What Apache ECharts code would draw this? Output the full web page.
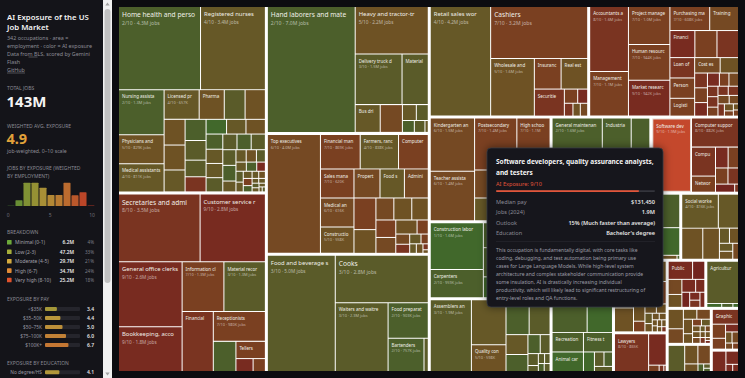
<!DOCTYPE html>
<html><head><meta charset="utf-8">
<script src="https://cdn.jsdelivr.net/npm/echarts@6/dist/echarts.min.js"></script>
<style>html,body{margin:0;padding:0;background:#0c0c10;overflow:hidden}#c{width:745px;height:378px}</style>
</head><body><div id="c"></div>
<script>
// ---------------- DATA ----------------
// occupation rows: [name, jobs (thousands), AI exposure 0-10]
const healthcare = [
["Home health and personal care aides",4300,2],["Registered nurses",3400,4],["Nursing assistants and orderlies",1300,2],
["Physicians and surgeons",829,5],["Medical assistants",811,4],["Licensed practical and licensed vocational nurses",657,4],
["Pharmacy technicians",470,5],["Dental assistants",390,3],["Nurse anesthetists, nurse midwives, and nurse practitioners",380,5],
["Clinical laboratory technologists and technicians",340,5],["Pharmacists",330,5],["Radiologic and MRI technologists",290,4],
["EMTs and paramedics",280,2],["Physical therapists",260,3],["Dental hygienists",220,3],["Medical records specialists",200,8],
["Massage therapists",190,1],["Physician assistants",180,5],["Speech-language pathologists",180,4],
["Physical therapist assistants and aides",160,2],["Occupational therapists",150,3],["Dentists",150,4],
["Diagnostic medical sonographers",150,4],["Respiratory therapists",140,3],["Phlebotomists",140,2],
["Psychiatric technicians and aides",140,3],["Surgical assistants and technologists",130,2],
["Veterinary technologists and technicians",130,3],["Veterinarians",90,4],["Dietitians and nutritionists",80,5],
["Opticians",80,4],["Medical equipment preparers",70,3],["Occupational therapy assistants and aides",60,2],
["Cardiovascular technologists",60,4],["Chiropractors",50,3],["Medical transcriptionists",50,9],["Optometrists",45,4],
["Health information technologists",40,7],["Pharmacy aides",40,4],["Athletic trainers",35,2],
["Dental laboratory technicians",30,5],["Ophthalmic laboratory technicians",30,4],["Recreational therapists",20,3],
["Radiation therapists",20,4],["Exercise physiologists",20,4],["Nuclear medicine technologists",18,4],
["Audiologists",15,4],["Orthotists and prosthetists",10,3],["Podiatrists",10,4],["Genetic counselors",4,6]
];
const officeAdmin = [
["Secretaries and administrative assistants",3500,8],["Customer service representatives",2800,9],
["General office clerks",2600,9],["Bookkeeping, accounting, and auditing clerks",1800,9],["Information clerks",1310,7],
["Material recording clerks",1300,3],["Financial clerks",1180,8],["Receptionists",980,7],
["Postal service workers",430,2],["Tellers",320,7],["Data entry keyers",140,9],["Switchboard operators",100,7]
];
const transportation = [
["Hand laborers and material movers",7000,2],["Heavy and tractor-trailer truck drivers",2200,5],
["Delivery truck drivers and driver/sales workers",1500,3],["Material moving machine operators",840,3],
["Bus drivers",440,4],["Taxi drivers, shuttle drivers, and chauffeurs",390,6],["Airline and commercial pilots",140,4],
["Flight attendants",120,3],["Railroad workers",90,2],["Water transportation workers",80,3],["Air traffic controllers",25,4]
];
const management = [
["Top executives",4000,6],["Financial managers",869,7],["Farmers, ranchers, and other agricultural managers",838,4],
["Computer and information systems managers",650,7],["Sales managers",620,7],["Medical and health services managers",616,6],
["Construction managers",558,5],["Property, real estate, and community association managers",480,6],
["Food service managers",450,4],["Advertising, promotions, and marketing managers",440,7],
["Administrative services and facilities managers",440,6],["Elementary, middle, and high school principals",330,5],
["Industrial production managers",250,5],["Transportation, storage, and distribution managers",250,6],
["Architectural and engineering managers",230,5],["Human resources managers",220,7],["Postsecondary education administrators",200,6],
["Social and community service managers",190,5],["Public relations managers",100,7],["Natural sciences managers",90,6],
["Purchasing managers",80,8],["Preschool and childcare center directors",70,4],["Training and development managers",45,7],
["Lodging managers",40,5],["Entertainment and recreation managers",40,4],["Compensation and benefits managers",20,8],
["Emergency management directors",12,5]
];
const foodService = [
["Food and beverage serving and related workers",5000,3],["Cooks",2800,3],["Waiters and waitresses",2300,3],
["Food preparation workers",903,2],["Bartenders",757,2],["Chefs and head cooks",90,3]
];
const sales = [
["Retail sales workers",4200,4],["Cashiers",3200,7],["Wholesale and manufacturing sales representatives",1600,5],
["Insurance sales agents",520,7],["Real estate brokers and sales agents",517,5],
["Securities, commodities, and financial services sales agents",515,8],
["Advertising sales agents",120,7],["Telemarketers",90,9],["Travel agents",70,8],["Sales engineers",60,6],
["Demonstrators and product promoters",60,5]
];
const business = [
["Accountants and auditors",1600,8],["Management analysts",1100,7],["Project management specialists",1000,7],
["Human resources specialists",944,7],["Market research analysts",942,9],["Purchasing managers, buyers, and purchasing agents",608,7],
["Training and development specialists",440,6],["Financial analysts",429,9],["Compliance officers",380,7],
["Claims adjusters, appraisers, examiners, and investigators",370,8],["Personal financial advisors",320,7],["Loan officers",320,8],
["Logisticians",280,7],["Cost estimators",250,6],["Meeting, convention, and event planners",180,5],["Insurance underwriters",110,9],
["Fundraisers",120,7],["Compensation, benefits, and job analysis specialists",120,8],["Appraisers and assessors of real estate",80,6],
["Tax preparers",100,9],["Fraud examiners",80,7],["Credit analysts",70,8],["Financial examiners",70,8],
["Business continuity planners",60,6],["Financial risk specialists",60,8],["Tax examiners and collectors",60,8],
["Labor relations specialists",60,7],["Budget analysts",50,8],["Sustainability specialists",50,6],
["Emergency management specialists",40,5],["Credit counselors",30,7],["Insurance appraisers",20,7],
["Agents and business managers of artists",20,5]
];
const education = [
["Kindergarten and elementary school teachers",1500,6],["Postsecondary teachers",1400,7],["Teacher assistants",1400,6],
["High school teachers",1100,7],["Middle school teachers",620,6],["Special education teachers",500,5],["Preschool teachers",500,4],
["Career and technical education teachers",220,5],["Instructional coordinators",200,7],["Library technicians and assistants",160,7],
["Librarians and library media specialists",140,7],["Adult basic and secondary education and ESL teachers",50,8],
["Archivists, curators, and museum workers",50,6]
];
const construction = [
["Construction laborers and helpers",1600,1],["Carpenters",959,2],["Electricians",650,2],
["Plumbers, pipefitters, and steamfitters",420,2],["Construction equipment operators",420,2],["Painters, construction and maintenance",300,1],
["Masonry workers",200,1],["Roofers",160,1],["Highway maintenance workers",150,1],["Drywall installers",130,1],
["Sheet metal workers",130,2],["Construction and building inspectors",130,4],["Structural iron and steel workers",100,1],
["Flooring installers",100,1],["Oil and gas workers",70,2],["Insulation workers",60,1],["Glaziers",60,1],
["Hazardous materials removal workers",50,2],["Elevator installers and repairers",25,2],["Solar photovoltaic installers",25,2],
["Earth drillers",20,2],["Boilermakers",15,2]
];
const maintenance = [
["General maintenance and repair workers",1600,2],["Automotive service technicians and mechanics",800,2],
["Industrial machinery mechanics",620,2],["Heating, air conditioning, and refrigeration mechanics",400,2],
["Diesel service technicians and mechanics",250,2],["Line installers and repairers",200,1],
["Heavy vehicle and mobile equipment service technicians",150,2],["Telecommunications technicians",150,3],
["Automotive body and glass repairers",150,2],["Aircraft and avionics equipment mechanics",120,2],
["Electrical and electronics installers and repairers",80,2],["Small engine mechanics",60,2],["Medical equipment repairers",40,3],
["Home appliance repairers",20,2],["Locksmiths and safe repairers",20,2],["Wind turbine technicians",12,2]
];
const computer = [
["Software developers, quality assurance analysts, and testers",1900,9],["Computer support specialists",882,8],
["Computer systems analysts",450,8],["Network and computer systems administrators",250,7],["Web developers and digital designers",170,9],
["Information security analysts",140,7],["Computer network architects",130,7],["Database administrators and architects",110,8],
["Computer programmers",100,10],["Computer and information research scientists",20,8]
];
const production = [
["Assemblers and fabricators",1900,3],["Metal and plastic machine workers",1000,4],["Quality control inspectors",598,5],
["Welders, cutters, solderers, and brazers",520,2],["Machinists and tool and die makers",470,3],["Printing workers",280,4],
["Woodworkers",240,2],["Painting and coating workers",150,2],["Water and wastewater treatment plant operators",120,3],
["Chemical plant operators",80,3],["Power plant operators",40,3],["Jewelers and precious stone workers",40,3],
["Stationary engineers and boiler operators",35,3],["Semiconductor processing technicians",30,3],["Upholsterers",30,2]
];
const buildingGrounds = [
["Janitors and building cleaners",2400,1],["Grounds maintenance workers",1300,1],["Pest control workers",100,2]
];
const personalCare = [
["Childcare workers",900,2],["Barbers, hairstylists, and cosmetologists",650,1],["Animal care and service workers",400,1],
["Recreation workers",400,2],["Fitness trainers and instructors",370,2],["Manicurists and pedicurists",140,1],
["Gambling services workers",90,3],["Skincare specialists",80,2],["Funeral service workers",60,3]
];
const architecture = [
["Engineering technicians",350,4],["Industrial engineers",340,5],["Civil engineers",330,5],["Electrical and electronics engineers",300,5],
["Mechanical engineers",290,5],["Drafters",190,7],["Architects",130,5],["Computer hardware engineers",80,7],
["Aerospace engineers",70,5],["Surveying and mapping technicians",60,5],["Surveyors",50,4],["Environmental engineers",40,5],
["Health and safety engineers",30,5],["Materials engineers",30,5],["Chemical engineers",20,5],["Biomedical engineers",20,5],
["Petroleum engineers",20,5],["Landscape architects",20,5],["Cartographers and photogrammetrists",15,8],["Nuclear engineers",15,5]
];
const protective = [
["Security guards and gambling surveillance officers",1200,3],["Police and detectives",800,3],
["Correctional officers and bailiffs",400,2],["Firefighters",330,1],["Private detectives and investigators",40,5],
["Fish and game wardens",7,2]
];
const community = [
["Social workers",816,4],["Substance abuse, behavioral disorder, and mental health counselors",450,4],
["Social and human service assistants",430,5],["School and career counselors and advisors",340,5],
["Rehabilitation counselors",100,4],["Probation officers and correctional treatment specialists",90,5],
["Community health workers",70,5],["Marriage and family therapists",70,4],["Health education specialists",60,6]
];
const lifeScience = [
["Psychologists",200,5],["Medical scientists",150,6],["Chemists and materials scientists",90,5],
["Environmental scientists and specialists",90,6],["Biological technicians",90,5],["Chemical technicians",60,5],
["Conservation scientists and foresters",40,4],["Urban and regional planners",40,7],["Geoscientists",30,6],
["Agricultural and food science technicians",30,5],["Environmental science and protection technicians",30,5],
["Economists",20,8],["Forensic science technicians",20,5],["Microbiologists",20,5],["Physicists and astronomers",20,6],
["Zoologists and wildlife biologists",20,4],["Survey researchers",10,9],["Atmospheric scientists",10,6],
["Sociologists",5,8],["Historians",3,8]
];
const legal = [
["Lawyers",865,8],["Paralegals and legal assistants",370,9],["Judges and hearing officers",45,7],
["Court reporters and simultaneous captioners",20,8],["Arbitrators, mediators, and conciliators",10,8]
];
const media = [
["Public relations specialists",300,9],["Writers and authors",150,10],["Photographers",140,6],["Editors",120,9],
["Broadcast, sound, and video technicians",120,5],["Interpreters and translators",80,10],["Film and video editors and camera operators",80,9],
["Technical writers",55,9],["News analysts, reporters, and journalists",50,9],["Announcers and DJs",50,8]
];
const farming = [
["Agricultural workers",913,3],["Logging workers",40,1],["Fishing and hunting workers",30,2],["Forest and conservation workers",15,1]
];
const arts = [
["Graphic designers",270,8],["Art directors",130,7],["Interior designers",100,7],["Special effects artists and animators",70,9],
["Craft and fine artists",50,6],["Floral designers",50,5],["Industrial designers",30,6],["Fashion designers",25,7]
];
const entertainment = [
["Coaches and scouts",300,3],["Musicians and singers",170,5],["Producers and directors",160,6],["Actors",70,5],
["Athletes and sports competitors",30,2],["Umpires, referees, and other sports officials",20,3],["Dancers and choreographers",15,2]
];
const mathOcc = [
["Data scientists",200,9],["Operations research analysts",120,9],["Statisticians",35,9],["Actuaries",30,9],["Mathematicians",3,8]
];
const groupNames = ["Healthcare","Office and administrative support","Transportation and material moving","Management",
"Food preparation and serving","Sales","Business and financial","Education, training, and library","Construction and extraction",
"Installation, maintenance, and repair","Computer and information technology","Production","Building and grounds cleaning",
"Personal care and service","Architecture and engineering","Protective service","Community and social service",
"Life, physical, and social science","Legal","Media and communication","Farming, fishing, and forestry","Arts and design",
"Entertainment and sports","Math"];
const groupRows = [healthcare,officeAdmin,transportation,management,foodService,sales,business,education,construction,
maintenance,computer,production,buildingGrounds,personalCare,architecture,protective,community,lifeScience,legal,media,
farming,arts,entertainment,mathOcc];

// sidebar data
const histScores = ["0","1","2","3","4","5","6","7","8","9","10"];
const histJobsM = [0.3,5.9,23.6,23.6,18.5,11.2,11.2,23.5,10.8,14.0,0.4];
const breakdownLabels = ["Minimal (0-1)","Low (2-3)","Moderate (4-5)","High (6-7)","Very high (8-10)"];
const breakdownJobs = ["6.2M","47.2M","29.7M","34.7M","25.2M"];
const breakdownPct = ["4%","33%","21%","24%","18%"];
const payBands = ["<$35K","$35–50K","$50–75K","$75–100K","$100K+"];
const payExposure = [3.4,4.4,5.0,6.0,6.7];
const eduLevels = ["No degree/HS"];
const eduExposure = [4.1];
// hovered occupation detail
const tipTitle = ["Software developers, quality assurance analysts,","and testers"];
const tipExposure = 9;
const tipLabels = ["Median pay","Jobs (2024)","Outlook","Education"];
const tipValues = ["$131,450","1.9M","15% (Much faster than average)","Bachelor's degree"];
const tipText = ["This occupation is fundamentally digital, with core tasks like",
"coding, debugging, and test automation being primary use",
"cases for Large Language Models. While high-level system",
"architecture and complex stakeholder communication provide",
"some insulation, AI is drastically increasing individual",
"productivity, which will likely lead to significant restructuring of",
"entry-level roles and QA functions."];
const hoveredName = "Software developers, quality assurance analysts, and testers";

// ---------------- STYLE HELPERS ----------------
const FONT = '"Noto Sans", "DejaVu Sans", sans-serif';
const cellPalette = ['#356b2d','#41682b','#4c5f2b','#5a5b29','#665827','#6e5224','#754923','#7a4021','#7a3421','#782b20','#72241e'];
const brightStops = [[0,[95,168,58]],[2.5,[166,174,58]],[4.5,[212,170,62]],[6.5,[224,138,54]],[9,[224,82,44]],[10,[200,60,40]]];
function bright(v){
  for(let i=0;i<brightStops.length-1;i++){
    const a=brightStops[i],b=brightStops[i+1];
    if(v<=b[0]){const t=Math.max(0,(v-a[0])/(b[0]-a[0]));
      const c=a[1].map((x,k)=>Math.round(x+(b[1][k]-x)*t));return 'rgb('+c.join(',')+')';}
  }
  return 'rgb(200,60,40)';
}
function fmtJobs(k){return k>=1000?(k/1000).toFixed(1)+'M':Math.round(k)+'K';}
const TX=487,TY=148,TW=176,TH=159; // hover card box
const TM={left:119,top:7,right:7,bottom:7};

function buildTree(sizes){
  return groupNames.map((g,gi)=>({
    name:g,
    children:groupRows[gi].map(r=>{
      const item={name:r[0],value:r[1],sub:r[2]+'/10 · '+fmtJobs(r[1])+' jobs',
        itemStyle:{color:cellPalette[r[2]]}};
      if(r[0]===hoveredName){item.itemStyle={color:'#c4482c',borderColor:'#e6d6cf',borderWidth:1};}
      if(sizes){
        const s=sizes[r[0]];
        if(!s||s.w<22||s.h<11){item.label={show:false};}
        else{
          const w=s.w,h=s.h;
          const fs=w>=74?6.6:(w>=58?5.9:4.5);
          const sfs=fs>6?5.1:(fs>5?4.7:3.9);
          const lx0=s.x, lx1=s.x+w, ly0=s.y, ly1=s.y+Math.min(h,24);
          const covered = lx1>TX && lx0<TX+TW && ly1>TY && ly0<TY+TH;
          if(covered){item.label={show:false};}
          else{
            item.showSub=(w>=31&&h>=22);
            item.label={show:true,rich:{
              n:{fontSize:fs,color:'#f0efe8',fontFamily:FONT,lineHeight:fs*1.4},
              s:{fontSize:sfs,color:'rgba(255,255,255,0.58)',fontFamily:FONT,lineHeight:sfs*1.5}}};
          }
        }
      }
      return item;
    })
  }));
}

// ---------------- SIDEBAR GRAPHICS ----------------
const gfx=[];
function txt(t,x,y,font,fill,align){gfx.push({type:'text',z:10,style:{text:t,x:x,y:y,font:font,fill:fill,textAlign:align||'left',textVerticalAlign:'middle'}});}
gfx.push({type:'rect',z:0,shape:{x:0,y:0,width:103,height:378},style:{fill:'#141419'}});
// scrollbar
gfx.push({type:'rect',z:2,shape:{x:103,y:0,width:9,height:378},style:{fill:'#f1f1f1'}});
gfx.push({type:'rect',z:3,shape:{x:104.5,y:9,width:6,height:274,r:3},style:{fill:'#c1c1c1'}});
gfx.push({type:'polygon',z:3,shape:{points:[[107.5,2.5],[105.3,5.5],[109.7,5.5]]},style:{fill:'#a3a3a3'}});
gfx.push({type:'polygon',z:3,shape:{points:[[107.5,375.5],[105.3,372.5],[109.7,372.5]]},style:{fill:'#a3a3a3'}});
txt('AI Exposure of the US',7,16.7,'600 7.8px '+FONT,'#f2f2f2');
txt('Job Market',7,26.7,'600 7.8px '+FONT,'#f2f2f2');
const subLines=['342 occupations · area =','employment · color = AI exposure','Data from BLS, scored by Gemini','Flash','GitHub'];
const subY=[38.3,46,54,61.7,70];
subLines.forEach((t,i)=>txt(t,7,subY[i],'5.4px '+FONT,'#8c8c96'));
gfx.push({type:'line',z:10,shape:{x1:28.5,y1:57,x2:37.5,y2:57},style:{stroke:'#8c8c96',lineWidth:0.5}});
gfx.push({type:'line',z:10,shape:{x1:7,y1:73,x2:25,y2:73},style:{stroke:'#8c8c96',lineWidth:0.5}});
txt('TOTAL JOBS',7,88.3,'5px '+FONT,'#8a8a94');
txt('143M',6.5,101,'bold 15px '+FONT,'#f4f4f4');
txt('WEIGHTED AVG. EXPOSURE',7,126.2,'5px '+FONT,'#8a8a94');
txt('4.9',6.5,138,'bold 14.5px '+FONT,'#e2a23a');
txt('job-weighted, 0–10 scale',7,150.5,'5.2px '+FONT,'#8c8c96');
txt('JOBS BY EXPOSURE (WEIGHTED',7,168.3,'5px '+FONT,'#8a8a94');
txt('BY EMPLOYMENT)',7,175.7,'5px '+FONT,'#8a8a94');
txt('BREAKDOWN',7,231.7,'5px '+FONT,'#8a8a94');
const bdY=[242.3,251.7,261.2,270.6,280];
const bdColors=[bright(0.5),bright(2.5),bright(4.5),bright(6.5),bright(9)];
breakdownLabels.forEach((t,i)=>{
  gfx.push({type:'rect',z:10,shape:{x:7,y:bdY[i]-2.3,width:4.6,height:4.6,r:0.6},style:{fill:bdColors[i]}});
  txt(t,15,bdY[i],'4.9px '+FONT,'#a2a2ac');
  txt(breakdownJobs[i],74,bdY[i],'600 4.9px '+FONT,'#ececec','right');
  txt(breakdownPct[i],94,bdY[i],'4.6px '+FONT,'#7c7c86','right');
});
txt('EXPOSURE BY PAY',7,299,'5px '+FONT,'#8a8a94');
txt('EXPOSURE BY EDUCATION',7,362.7,'5px '+FONT,'#8a8a94');

// ---------------- TOOLTIP PANEL ----------------
gfx.push({type:'rect',z:50,shape:{x:TX,y:TY,width:TW,height:TH,r:4},style:{fill:'#17181e',stroke:'#34353d',lineWidth:0.8,shadowBlur:8,shadowColor:'rgba(0,0,0,0.5)'}});
function ttxt(t,x,y,font,fill,align){gfx.push({type:'text',z:51,style:{text:t,x:x,y:y,font:font,fill:fill,textAlign:align||'left',textVerticalAlign:'middle'}});}
ttxt(tipTitle[0],496,161,'bold 6.5px '+FONT,'#f4f4f4');
ttxt(tipTitle[1],496,172,'bold 6.5px '+FONT,'#f4f4f4');
ttxt('AI Exposure: '+tipExposure+'/10',496,183.5,'5.6px '+FONT,'#e2553a');
gfx.push({type:'rect',z:51,shape:{x:496,y:190.3,width:159,height:1.6,r:0.8},style:{fill:'#34353c'}});
gfx.push({type:'rect',z:52,shape:{x:496,y:190.3,width:159*tipExposure/10,height:1.6,r:0.8},style:{fill:'#e2553a'}});
const rowY=[202,212,222.5,233];
tipLabels.forEach((l,i)=>{ttxt(l,496,rowY[i],'5.6px '+FONT,'#8a8a94');ttxt(tipValues[i],655,rowY[i],'600 5.6px '+FONT,'#e6e6e6','right');});
gfx.push({type:'rect',z:51,shape:{x:496,y:241.5,width:159,height:0.6},style:{fill:'#2c2d34'}});
tipText.forEach((l,i)=>ttxt(l,496,250+i*8,'5.05px '+FONT,'#9d9da7'));

// ---------------- OPTION ----------------
const chart=echarts.init(document.getElementById('c'),null,{renderer:'svg',width:745,height:378});
function makeOption(tree){
  return {
  backgroundColor:'#0c0c10',
  animation:false,
  textStyle:{fontFamily:FONT},
  grid:[
    {left:7,top:182.3,width:88,height:23.7,outerBoundsMode:'none'},
    {left:8.3,top:206,width:83.7,height:1,outerBoundsMode:'none'},
    {left:45,top:304.5,width:35,height:45,outerBoundsMode:'none'},
    {left:45,top:367.8,width:35,height:9,outerBoundsMode:'none'}
  ],
  xAxis:[
    {gridIndex:0,type:'category',data:histScores,axisLine:{show:false},axisTick:{show:false},axisLabel:{show:false}},
    {gridIndex:1,type:'value',min:0,max:10,interval:5,z:20,axisLine:{show:false},axisTick:{show:false},splitLine:{show:false},
      axisLabel:{show:true,fontSize:5,color:'#70707a',margin:5.5,fontFamily:FONT}},
    {gridIndex:2,type:'value',min:0,max:10,show:false},
    {gridIndex:3,type:'value',min:0,max:10,show:false}
  ],
  yAxis:[
    {gridIndex:0,type:'value',min:0,max:24,show:false},
    {gridIndex:1,type:'value',min:0,max:1,show:false},
    {gridIndex:2,type:'category',inverse:true,z:20,data:payBands,axisLine:{show:false},axisTick:{show:false},
      axisLabel:{fontSize:4.8,color:'#9a9aa4',margin:3,fontFamily:FONT}},
    {gridIndex:2,type:'category',inverse:true,z:20,position:'right',data:payExposure.map(v=>v.toFixed(1)),axisLine:{show:false},axisTick:{show:false},
      axisLabel:{fontSize:5,color:'#e4e4e4',margin:14,align:'right',fontWeight:600,fontFamily:FONT}},
    {gridIndex:3,type:'category',inverse:true,z:20,data:eduLevels,axisLine:{show:false},axisTick:{show:false},
      axisLabel:{fontSize:4.8,color:'#9a9aa4',margin:3,fontFamily:FONT}},
    {gridIndex:3,type:'category',inverse:true,z:20,position:'right',data:eduExposure.map(v=>v.toFixed(1)),axisLine:{show:false},axisTick:{show:false},
      axisLabel:{fontSize:5,color:'#e4e4e4',margin:14,align:'right',fontWeight:600,fontFamily:FONT}}
  ],
  series:[
    {type:'bar',xAxisIndex:0,yAxisIndex:0,data:histJobsM,barCategoryGap:'12%',silent:true,z:20,
      itemStyle:{opacity:0.82,borderRadius:[0.6,0.6,0,0],color:p=>bright(p.dataIndex)}},
    {type:'bar',xAxisIndex:2,yAxisIndex:2,data:payExposure,barWidth:4,silent:true,showBackground:true,z:20,
      backgroundStyle:{color:'#25252c',borderRadius:1},itemStyle:{borderRadius:1,opacity:0.85,color:p=>bright(p.value)}},
    {type:'bar',xAxisIndex:3,yAxisIndex:4,data:eduExposure,barWidth:4,silent:true,showBackground:true,z:20,
      backgroundStyle:{color:'#25252c',borderRadius:1},itemStyle:{borderRadius:1,opacity:0.85,color:p=>bright(p.value)}},
    {type:'treemap',left:TM.left,top:TM.top,right:TM.right,bottom:TM.bottom,roam:false,nodeClick:false,breadcrumb:{show:false},
      squareRatio:1,silent:true,emphasis:{disabled:true},
      label:{show:true,position:'insideTopLeft',padding:[3,3,0,3],overflow:'truncate',ellipsis:'',
        formatter:p=>{const d=p.data||{};return d.showSub?('{n|'+p.name+'}\n{s|'+d.sub+'}'):('{n|'+p.name+'}');}},
      upperLabel:{show:false},
      itemStyle:{borderWidth:0,gapWidth:1},
      levels:[
        {itemStyle:{borderWidth:0,gapWidth:3,color:'#0c0c10'}},
        {itemStyle:{borderWidth:0,gapWidth:1,color:'#0c0c10'}},
        {itemStyle:{borderWidth:0,gapWidth:0}}
      ],
      data:tree}
  ],
  graphic:{elements:gfx}
  };
}
chart.setOption(makeOption(buildTree(null)));
// second pass: size labels from the library's own layout
const sizes={};
try{
  const sm=chart.getModel().getSeriesByIndex(3);
  const d=sm.getData();
  for(let i=0;i<d.count();i++){
    const node=d.tree.getNodeByDataIndex(i);const l=d.getItemLayout(i);
    if(node&&node.depth===2&&l){
      let ax=TM.left, ay=TM.top, n=node;
      while(n){const nl=n.getLayout();if(nl){ax+=nl.x||0;ay+=nl.y||0;}n=n.parentNode;}
      sizes[d.getName(i)]={w:l.width,h:l.height,x:ax,y:ay};
    }
  }
}catch(e){}
chart.setOption(makeOption(buildTree(sizes)),true);
</script></body></html>
